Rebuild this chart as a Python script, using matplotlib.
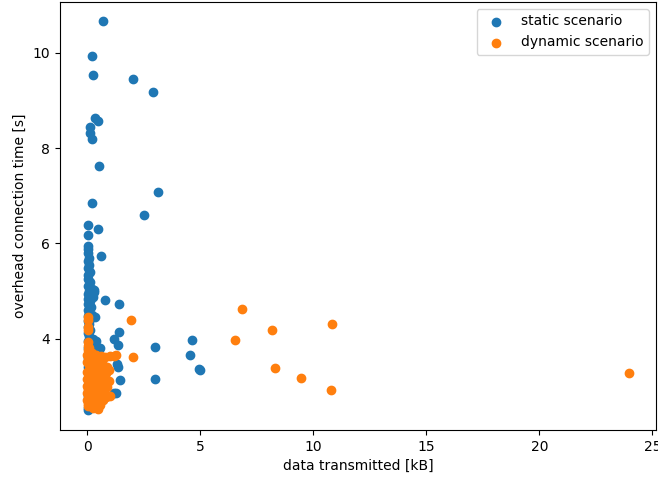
import numpy as np
import matplotlib
matplotlib.use("Agg")
import matplotlib.pyplot as plt
from matplotlib.ticker import MultipleLocator

# static scenario: outliers + dense column near 0 kB
static_x = [0.71, 0.22, 0.27, 2.04, 2.92, 0.37, 0.47, 0.12, 0.12, 0.22,
            0.54, 3.13, 0.21, 2.51, 0.06, 0.47, 0.06, 0.04, 0.62, 0.31,
            0.80, 1.42, 1.42, 1.21, 1.36, 3.02, 4.63, 4.54, 4.94, 4.98,
            0.58, 1.33, 1.36, 1.46, 3.02, 1.21, 1.30, 0.03,
            0.02, 0.05, 0.08, 0.03, 0.10, 0.04, 0.12, 0.02, 0.06, 0.15,
            0.03, 0.20, 0.08, 0.30, 0.05, 0.25, 0.02, 0.12, 0.06, 0.18,
            0.03, 0.10, 0.04, 0.14, 0.02, 0.08, 0.22, 0.05, 0.12, 0.03,
            0.35, 0.10, 0.28, 0.04, 0.18, 0.40, 0.08, 0.02, 0.12, 0.05,
            0.30, 0.10, 0.03, 0.15, 0.06, 0.02, 0.08, 0.04]
static_y = [10.66, 9.93, 9.53, 9.45, 9.17, 8.64, 8.56, 8.45, 8.32, 8.19,
            7.62, 7.08, 6.84, 6.60, 6.39, 6.30, 6.18, 5.95, 5.73, 4.97,
            4.81, 4.73, 4.13, 3.99, 3.86, 3.83, 3.96, 3.66, 3.37, 3.35,
            3.81, 3.47, 3.40, 3.14, 3.16, 2.86, 2.85, 2.49,
            5.88, 5.80, 5.70, 5.62, 5.55, 5.48, 5.40, 5.33, 5.25, 5.18,
            5.10, 5.05, 5.00, 5.02, 4.93, 4.88, 4.84, 4.78, 4.72, 4.66,
            4.60, 4.54, 4.48, 4.42, 4.36, 4.30, 4.50, 4.24, 4.18, 4.12,
            4.45, 4.06, 4.00, 3.94, 3.90, 3.95, 3.88, 3.80, 3.72, 3.60,
            3.85, 3.50, 3.40, 3.20, 3.00, 2.80, 2.60, 2.55]

# dynamic scenario
dynamic_x = [6.84, 10.83, 8.19, 6.52, 8.33, 9.44, 10.77, 23.97, 1.95, 2.05,
             0.03, 0.03, 0.05, 0.04, 0.02, 0.05, 0.10, 0.03, 0.20, 0.40,
             0.60, 0.80, 1.00, 1.28, 1.21, 0.15, 0.30, 0.50, 0.70, 0.90,
             0.10, 0.25, 0.45, 0.65, 0.85, 0.05, 0.20, 0.35, 0.55, 0.75,
             0.95, 0.10, 0.30, 0.50, 0.70, 0.90, 0.05, 0.20, 0.40, 0.60,
             0.80, 1.00, 0.10, 0.30, 0.50, 0.70, 0.15, 0.35, 0.55, 0.05,
             0.25, 0.50, 0.40, 0.00, 0.00, 0.00, 0.00, 0.00, 0.00, 0.00,
             0.84, 0.02, 0.12, 0.60, 0.08, 0.18, 0.95, 0.65, 0.30, 0.45]
dynamic_y = [4.63, 4.31, 4.18, 3.97, 3.39, 3.17, 2.93, 3.28, 4.39, 3.61,
             4.46, 4.40, 4.24, 4.18, 3.92, 3.85, 3.80, 3.75, 3.70, 3.66,
             3.64, 3.62, 3.63, 3.65, 3.64, 3.60, 3.55, 3.50, 3.45, 3.40,
             3.45, 3.40, 3.35, 3.30, 3.28, 3.30, 3.25, 3.20, 3.18, 3.15,
             3.10, 3.12, 3.05, 3.02, 3.00, 2.98, 2.95, 2.90, 2.88, 2.85,
             2.82, 2.80, 2.78, 2.75, 2.72, 2.70, 2.65, 2.62, 2.60, 2.58,
             2.55, 2.53, 2.57, 2.70, 2.85, 3.00, 3.15, 3.30, 3.50, 3.65,
             2.77, 2.62, 3.55, 3.38, 2.90, 3.08, 3.35, 2.92, 3.58, 2.68]

fig = plt.figure(figsize=(6.58, 4.82), dpi=100)
ax = fig.add_axes([0.0912, 0.108, 0.906, 0.888])
ax.scatter(static_x, static_y, label="static scenario")
ax.scatter(dynamic_x, dynamic_y, label="dynamic scenario")
ax.yaxis.set_major_locator(MultipleLocator(2))
ax.set_xlabel("data transmitted [kB]")
ax.set_ylabel("overhead connection time [s]")
ax.legend(loc="upper right")
fig.savefig("out.png", dpi=100)
